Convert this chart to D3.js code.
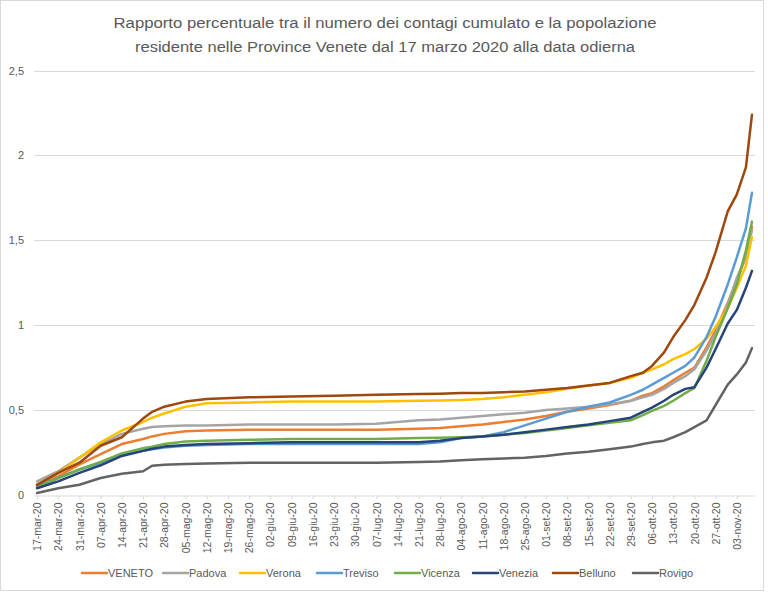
<!DOCTYPE html>
<html>
<head>
<meta charset="utf-8">
<script src="https://cdn.jsdelivr.net/npm/d3@7"></script>
<style>
  body { margin: 0; background: #fff; }
  svg text { font-family: "Liberation Sans", Arial, sans-serif; fill: #595959; }
</style>
</head>
<body>
<svg id="chart" width="768" height="592"></svg>
<script>
// ---------------- DATA ----------------
const titleLines = [
  "Rapporto percentuale tra il numero dei contagi cumulato e la popolazione",
  "residente nelle  Province Venete dal 17 marzo 2020 alla data odierna"
];
const monthNames = ["gen","feb","mar","apr","mag","giu","lug","ago","set","ott","nov","dic"];

const dates = ["17-mar-20","24-mar-20","31-mar-20","07-apr-20","14-apr-20","21-apr-20","24-apr-20","28-apr-20",
  "05-mag-20","12-mag-20","26-mag-20","09-giu-20","23-giu-20","07-lug-20","21-lug-20","28-lug-20",
  "04-ago-20","11-ago-20","18-ago-20","25-ago-20","01-set-20","08-set-20","15-set-20","22-set-20","29-set-20",
  "03-ott-20","06-ott-20","10-ott-20","13-ott-20","17-ott-20","20-ott-20","24-ott-20","27-ott-20","31-ott-20",
  "03-nov-20","06-nov-20","08-nov-20"];

const seriesNames = ["VENETO","Padova","Verona","Treviso","Vicenza","Venezia","Belluno","Rovigo"];

const VENETO  = [0.06,0.11,0.18,0.24,0.30,0.33,0.345,0.36,0.375,0.38,0.385,0.385,0.385,0.385,0.39,0.395,0.405,0.415,0.43,0.445,0.465,0.49,0.51,0.53,0.555,0.585,0.60,0.64,0.675,0.72,0.75,0.87,0.97,1.13,1.27,1.40,1.58];
const Padova  = [0.08,0.14,0.22,0.30,0.36,0.39,0.40,0.405,0.41,0.41,0.415,0.415,0.415,0.42,0.44,0.445,0.455,0.465,0.475,0.485,0.50,0.51,0.52,0.535,0.555,0.575,0.59,0.625,0.66,0.70,0.74,0.85,0.95,1.12,1.28,1.40,1.56];
const Verona  = [0.06,0.13,0.22,0.31,0.38,0.43,0.455,0.48,0.52,0.54,0.545,0.55,0.55,0.55,0.555,0.557,0.56,0.565,0.575,0.59,0.605,0.625,0.645,0.66,0.69,0.72,0.74,0.77,0.80,0.83,0.86,0.92,0.99,1.10,1.22,1.35,1.52];
const Treviso = [0.05,0.10,0.15,0.19,0.235,0.26,0.27,0.28,0.29,0.295,0.30,0.30,0.30,0.30,0.30,0.31,0.335,0.345,0.37,0.41,0.45,0.49,0.52,0.545,0.59,0.62,0.65,0.69,0.72,0.76,0.81,0.93,1.05,1.24,1.40,1.57,1.78];
const Vicenza = [0.045,0.10,0.15,0.195,0.245,0.275,0.285,0.30,0.315,0.32,0.325,0.33,0.33,0.33,0.335,0.337,0.34,0.345,0.355,0.365,0.38,0.395,0.41,0.425,0.44,0.47,0.495,0.525,0.555,0.60,0.63,0.79,0.93,1.10,1.24,1.44,1.61];
const Venezia = [0.04,0.08,0.13,0.175,0.23,0.26,0.272,0.285,0.295,0.30,0.305,0.31,0.31,0.31,0.31,0.32,0.335,0.345,0.355,0.37,0.385,0.40,0.415,0.435,0.455,0.49,0.515,0.555,0.59,0.625,0.635,0.75,0.86,1.01,1.09,1.22,1.32];
const Belluno = [0.06,0.13,0.19,0.29,0.34,0.45,0.49,0.52,0.55,0.565,0.575,0.58,0.585,0.59,0.595,0.597,0.60,0.60,0.605,0.61,0.62,0.63,0.645,0.66,0.70,0.72,0.76,0.84,0.93,1.03,1.12,1.28,1.43,1.67,1.77,1.93,2.24];
const Rovigo  = [0.012,0.04,0.06,0.10,0.125,0.14,0.172,0.178,0.182,0.185,0.19,0.19,0.19,0.19,0.195,0.198,0.205,0.21,0.215,0.22,0.23,0.245,0.255,0.27,0.285,0.30,0.31,0.32,0.34,0.37,0.40,0.44,0.53,0.65,0.71,0.78,0.865];

const yTicks = [0, 0.5, 1, 1.5, 2, 2.5];
const xTickLabels = ["17-mar-20","24-mar-20","31-mar-20","07-apr-20","14-apr-20","21-apr-20","28-apr-20",
  "05-mag-20","12-mag-20","19-mag-20","26-mag-20","02-giu-20","09-giu-20","16-giu-20","23-giu-20","30-giu-20",
  "07-lug-20","14-lug-20","21-lug-20","28-lug-20","04-ago-20","11-ago-20","18-ago-20","25-ago-20",
  "01-set-20","08-set-20","15-set-20","22-set-20","29-set-20","06-ott-20","13-ott-20","20-ott-20","27-ott-20","03-nov-20"];
const xDomainLabels = ["16-mar-20", "09-nov-20"];

// ---------------- STYLE ----------------
const colors = ["#ED7D31","#A5A5A5","#FFC000","#5B9BD5","#70AD47","#264478","#9E480E","#636363"];

// ---------------- HELPERS ----------------
function parseDate(s) {
  const [dd, mm, yy] = s.split("-");
  return new Date(Date.UTC(2000 + +yy, monthNames.indexOf(mm), +dd));
}
const seriesValues = [VENETO, Padova, Verona, Treviso, Vicenza, Venezia, Belluno, Rovigo];
const dateObjs = dates.map(parseDate);

const svg = d3.select("#chart");

// chart border
svg.append("rect").attr("x", 0.5).attr("y", 0.5).attr("width", 763).attr("height", 590)
  .attr("fill", "#fff").attr("stroke", "#D9D9D9");

// title
svg.selectAll("text.title").data(titleLines).join("text")
  .attr("class", "title")
  .attr("x", 385).attr("y", (d, i) => 28 + i * 23.5)
  .attr("text-anchor", "middle")
  .attr("font-size", 15.5)
  .attr("textLength", (d, i) => i === 0 ? 543 : 500)
  .attr("lengthAdjust", "spacingAndGlyphs")
  .text(d => d);

// scales
const x = d3.scaleUtc().domain(xDomainLabels.map(parseDate)).range([34, 755]);
const y = d3.scaleLinear().domain([0, 2.5]).range([495, 70.5]);

// gridlines
svg.append("g").selectAll("line").data(yTicks.filter(v => v > 0)).join("line")
  .attr("x1", 34).attr("x2", 755)
  .attr("y1", d => Math.round(y(d)) + 0.5).attr("y2", d => Math.round(y(d)) + 0.5)
  .attr("stroke", "#D9D9D9").attr("stroke-width", 1);

// y axis labels
const yAxis = d3.axisLeft(y).tickValues(yTicks).tickSize(0)
  .tickFormat(d => String(d).replace(".", ","));
const gy = svg.append("g").attr("transform", "translate(34,0)").call(yAxis);
gy.select(".domain").remove();
gy.selectAll("text").attr("x", -10).attr("font-size", 11)
  .style("font-family", '"Liberation Sans", Arial, sans-serif').attr("fill", "#595959");

// x axis
const xAxis = d3.axisBottom(x).tickValues(xTickLabels.map(parseDate))
  .tickFormat((d, i) => xTickLabels[i]).tickSize(4).tickSizeOuter(0);
const gx = svg.append("g").attr("transform", "translate(0,495.5)").call(xAxis);
gx.select(".domain").attr("stroke", "#D9D9D9");
gx.selectAll(".tick line").attr("stroke", "#D9D9D9");
gx.selectAll("text")
  .attr("transform", "rotate(-90)")
  .attr("x", -7).attr("y", 0).attr("dy", "0.35em")
  .attr("text-anchor", "end")
  .attr("font-size", 10.5)
  .style("font-family", '"Liberation Sans", Arial, sans-serif')
  .attr("fill", "#595959");

// lines
const line = d3.line().x((d, i) => x(dateObjs[i])).y(d => y(d)).curve(d3.curveLinear);
svg.append("g").selectAll("path").data(seriesValues).join("path")
  .attr("d", d => line(d))
  .attr("fill", "none")
  .attr("stroke", (d, i) => colors[i])
  .attr("stroke-width", 2.5)
  .attr("stroke-linejoin", "round")
  .attr("stroke-linecap", "round");

// legend
const legendX = [82, 163, 240, 317, 395, 473, 553, 633];
const lg = svg.append("g").selectAll("g").data(seriesNames).join("g")
  .attr("transform", (d, i) => `translate(${legendX[i]},573)`);
lg.append("line").attr("x1", 0).attr("x2", 25).attr("y1", 0).attr("y2", 0)
  .attr("stroke", (d, i) => colors[i]).attr("stroke-width", 2.5).attr("stroke-linecap", "round");
lg.append("text").attr("x", 26).attr("y", 0).attr("dy", "0.35em")
  .attr("font-size", 11).text(d => d);
</script>
</body>
</html>
